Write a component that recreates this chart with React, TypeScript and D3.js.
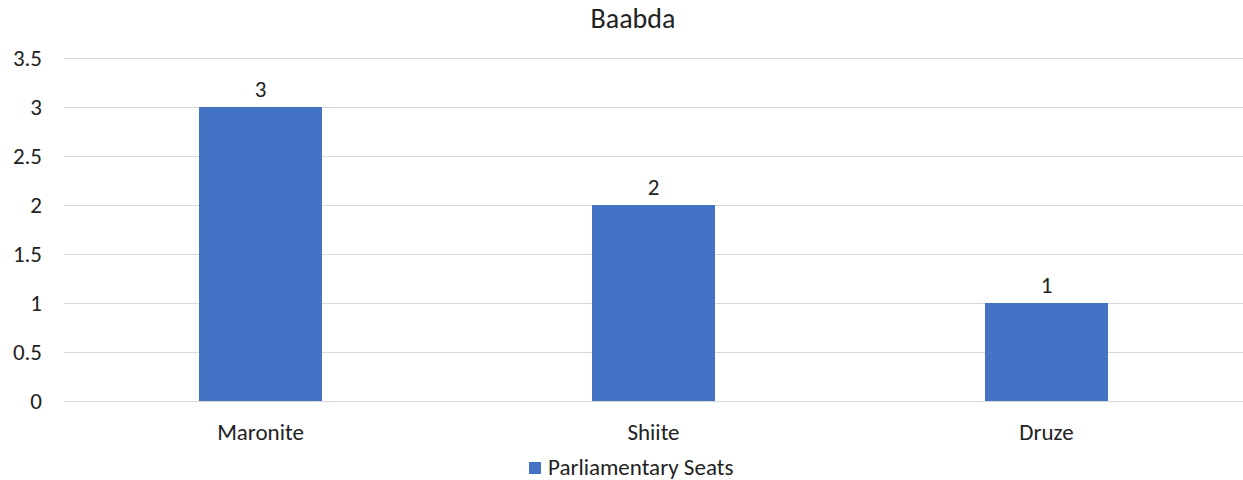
import React from "react";
import * as d3 from "d3";

const title = "Baabda";
const categories = ["Maronite", "Shiite", "Druze"];
const seats = [3, 2, 1];
const yTicks = [0, 0.5, 1, 1.5, 2, 2.5, 3, 3.5];
const seriesName = "Parliamentary Seats";

const W = 1243;
const H = 480;
const margin = { left: 64, right: 0, top: 58, bottom: 79 };
const FONT = "Carlito, Calibri, 'Open Sans', 'Noto Sans', sans-serif";
const FS = 23;

export default function App() {
  const x = d3
    .scaleBand<string>()
    .domain(categories)
    .range([margin.left, W - margin.right])
    .paddingInner(0.687)
    .paddingOuter(0.3435);
  const y = d3.scaleLinear().domain([0, 3.5]).range([H - margin.bottom, margin.top]);
  const fmt = (v: number) => String(v);

  return (
    <svg
      width={W}
      height={H}
      style={{ position: "absolute", left: 0, top: 0, background: "#fff" }}
      fontFamily={FONT}
    >
      <text x={633} y={28} textAnchor="middle" fontSize={28} fill="#222">
        {title}
      </text>
      {yTicks.map((t) => (
        <g key={t}>
          <line
            x1={margin.left}
            x2={W - margin.right}
            y1={Math.round(y(t)) + 0.5}
            y2={Math.round(y(t)) + 0.5}
            stroke="#d9d9d9"
            strokeWidth={1.2}
          />
          <text x={42} y={y(t)} dy="0.35em" textAnchor="end" fontSize={FS} fill="#222">
            {fmt(t)}
          </text>
        </g>
      ))}
      {categories.map((c, i) => (
        <g key={c}>
          <rect
            x={x(c)}
            y={y(seats[i])}
            width={x.bandwidth()}
            height={y(0) - y(seats[i])}
            fill="#4472c4"
          />
          <text
            x={(x(c) as number) + x.bandwidth() / 2}
            y={y(seats[i]) - 10}
            textAnchor="middle"
            fontSize={FS}
            fill="#222"
          >
            {seats[i]}
          </text>
          <text
            x={(x(c) as number) + x.bandwidth() / 2}
            y={y(0) + 39}
            textAnchor="middle"
            fontSize={FS}
            fill="#222"
          >
            {c}
          </text>
        </g>
      ))}
      <rect x={529} y={462} width={12} height={12} fill="#4472c4" />
      <text x={548} y={475} fontSize={FS} fill="#222">
        {seriesName}
      </text>
    </svg>
  );
}
